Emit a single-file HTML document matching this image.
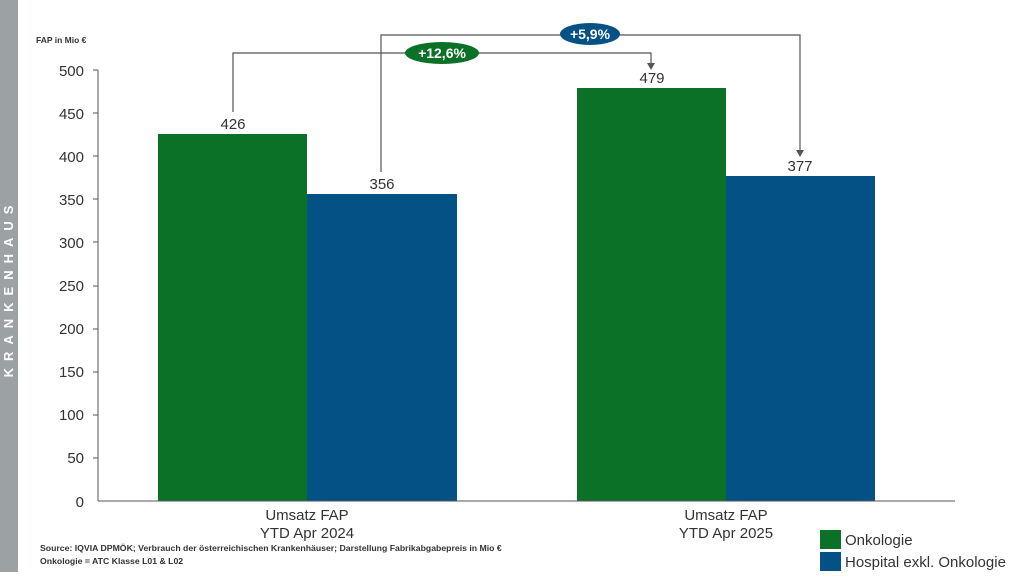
<!DOCTYPE html>
<html><head><meta charset="utf-8"><style>
body{margin:0;background:#fff;width:1024px;height:576px;overflow:hidden;font-family:"Liberation Sans",sans-serif}
</style></head><body>
<svg width="1024" height="576" xmlns="http://www.w3.org/2000/svg" font-family="Liberation Sans, sans-serif">
<rect x="0" y="0" width="18" height="572" fill="#9ca1a4"/>
<text transform="translate(13,288) rotate(-90)" text-anchor="middle" fill="#fff" font-size="13" font-weight="bold" letter-spacing="7">KRANKENHAUS</text>
<text x="36" y="43" font-size="8.5" font-weight="bold" fill="#333">FAP in Mio €</text>
<g font-size="15" fill="#333" text-anchor="end">
<text x="84" y="76">500</text><text x="84" y="119">450</text><text x="84" y="162">400</text><text x="84" y="205">350</text><text x="84" y="248">300</text><text x="84" y="291">250</text><text x="84" y="334">200</text><text x="84" y="377">150</text><text x="84" y="420">100</text><text x="84" y="463">50</text><text x="84" y="507">0</text>
</g>
<g stroke="#555" stroke-width="1">
<line x1="98" y1="70" x2="98" y2="501"/>
<line x1="93" y1="70" x2="98" y2="70"/><line x1="93" y1="113" x2="98" y2="113"/><line x1="93" y1="156" x2="98" y2="156"/><line x1="93" y1="199" x2="98" y2="199"/><line x1="93" y1="242" x2="98" y2="242"/><line x1="93" y1="286" x2="98" y2="286"/><line x1="93" y1="329" x2="98" y2="329"/><line x1="93" y1="372" x2="98" y2="372"/><line x1="93" y1="415" x2="98" y2="415"/><line x1="93" y1="458" x2="98" y2="458"/>
</g>
<rect x="158" y="134" width="149" height="367" fill="#0a7127"/>
<rect x="307" y="194" width="150" height="307" fill="#045186"/>
<rect x="577" y="88" width="149" height="413" fill="#0a7127"/>
<rect x="726" y="176" width="149" height="325" fill="#045186"/>
<line x1="98" y1="501" x2="955" y2="501" stroke="#555"/>
<g font-size="15" fill="#333" text-anchor="middle">
<text x="233" y="129">426</text><text x="382" y="189">356</text><text x="652" y="83">479</text><text x="800" y="171">377</text>
<text x="307" y="520">Umsatz FAP</text><text x="307" y="538">YTD Apr 2024</text>
<text x="726" y="520">Umsatz FAP</text><text x="726" y="538">YTD Apr 2025</text>
</g>
<g stroke="#555" stroke-width="1.2" fill="none">
<polyline points="233,112 233,53 651,53 651,64"/>
<polyline points="381,172 381,35 800,35 800,152"/>
</g>
<polygon points="647,63 655,63 651,70" fill="#555"/>
<polygon points="796,150 804,150 800,157" fill="#555"/>
<ellipse cx="442" cy="53" rx="37" ry="11" fill="#0a7127"/>
<text x="442" y="58" font-size="14" font-weight="bold" fill="#fff" text-anchor="middle">+12,6%</text>
<ellipse cx="590" cy="34" rx="30" ry="11" fill="#045186"/>
<text x="590" y="39" font-size="14" font-weight="bold" fill="#fff" text-anchor="middle">+5,9%</text>
<text x="40" y="551" font-size="8.7" font-weight="bold" fill="#333">Source: IQVIA DPMÖK; Verbrauch der österreichischen Krankenhäuser; Darstellung Fabrikabgabepreis in Mio €</text>
<text x="40" y="564" font-size="8.7" font-weight="bold" fill="#333">Onkologie = ATC Klasse L01 &amp; L02</text>
<rect x="820" y="530" width="21" height="19" fill="#0a7127"/>
<rect x="820" y="552" width="21" height="19" fill="#045186"/>
<text x="845" y="545" font-size="15" fill="#333">Onkologie</text>
<text x="845" y="567" font-size="15" fill="#333">Hospital exkl. Onkologie</text>
</svg>
</body></html>
